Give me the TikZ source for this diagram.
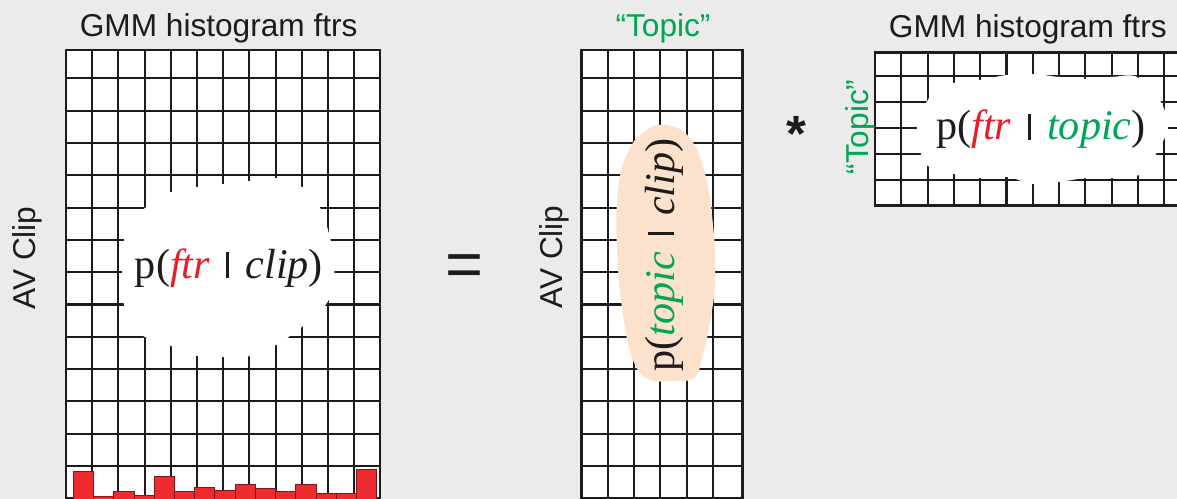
\documentclass[tikz,border=0pt]{standalone}
\usepackage{fontspec}
\setmainfont{Liberation Serif}
\newfontfamily\sansf{Liberation Sans}
\definecolor{bg}{RGB}{235,235,235}
\definecolor{ink}{RGB}{30,27,28}
\definecolor{redtxt}{RGB}{237,28,36}
\definecolor{grn}{RGB}{0,166,81}
\definecolor{peach}{RGB}{252,226,205}
\definecolor{barred}{RGB}{238,43,46}
\definecolor{bardark}{RGB}{130,20,24}
\newcommand\mybar{\hspace{0.14em}\rule{0.07em}{0.62em}\hspace{0.14em}}
\begin{document}
\begin{tikzpicture}[x=0.02cm,y=-0.02cm,
  gridline/.style={draw=ink,line width=1.15pt},
  frame/.style={draw=ink,line width=1.6pt},
  title/.style={font=\sansf\fontsize{18}{20}\selectfont,text=ink,inner sep=0pt},
  formula/.style={font=\fontsize{24}{26}\selectfont,text=ink,inner sep=0pt},
  bar/.style={fill=barred,draw=bardark,line width=0.5pt},
  blob/.style={fill=white}]
\useasboundingbox (0,0) rectangle (1177,499);
\fill[bg] (0,0) rectangle (1177,499);
\clip (0,0) rectangle (1177,499);

% ---------- left grid ----------
\fill[white] (66,50) rectangle (380,520);
\foreach \i in {1,...,11} \draw[gridline] ({66+26.2*\i},50) -- ({66+26.2*\i},520);
\foreach \j in {0,...,13} \draw[gridline] (66,{78.4+32.3*\j}) -- (380,{78.4+32.3*\j});
\fill[blob] plot[smooth cycle, tension=0.6] coordinates {(145,208) (160,196) (171,192) (197,187) (224,184) (250,181) (276,178) (302,187) (318,204) (328,230) (334,260) (333,288) (324,307) (303,326) (290,336) (276,345) (250,356) (224,357) (197,356) (171,346) (145,337) (131,325) (124,305) (122,272) (124,240) (131,221)};
\foreach \t [count=\i from 0] in {471.7,496.7,491,495.3,476,491.3,487.3,490.3,484,488.3,491.3,484.7,493.3,493.3,469}
  \draw[bar] ({73.3+20.23*\i},\t) rectangle ({73.3+20.23*(\i+1)},510);
\draw[frame] (66,50) rectangle (380,520);

% ---------- middle grid ----------
\fill[white] (581.7,50) rectangle (742.3,520);
\foreach \x in {607.7,634,660,687,713.3} \draw[gridline] (\x,50) -- (\x,520);
\foreach \j in {0,...,13} \draw[gridline] (581.7,{78.4+32.3*\j}) -- (742.3,{78.4+32.3*\j});
\fill[peach] plot[smooth cycle, tension=0.7] coordinates {(665,125) (688,136) (704,170) (713,225) (715,280) (710,322) (702,358) (694,378) (670,381) (648,379) (633,360) (623,315) (617,250) (618,190) (628,152) (645,131)};
\draw[frame] (581.7,50) rectangle (742.3,520);

% ---------- right grid ----------
\fill[white] (875,52.7) rectangle (1200,205.7);
\foreach \i in {1,...,12} \draw[gridline] ({875+26.3*\i},52.7) -- ({875+26.3*\i},205.7);
\foreach \j in {0,...,4} \draw[gridline] (875,{76+26*\j}) -- (1200,{76+26*\j});
\fill[blob] plot[smooth cycle, tension=0.6] coordinates {(928,100) (936,84) (954,83) (980,80) (1007,75) (1033,74) (1059,77) (1086,79) (1112,77) (1135,76) (1150,89) (1162,104) (1168,128) (1158,150) (1148,168) (1136,176) (1112,178) (1086,178) (1059,182) (1033,184) (1007,177) (980,178) (954,174) (928,166) (921,154) (917,128) (921,110)};
\draw[frame] (875,52.7) rectangle (1200,205.7);

% ---------- texts ----------
\node[title,anchor=base] (titleL) at (218.7,36.7) {GMM histogram ftrs};
\node[title,anchor=base] (titleR) at (1027.8,37.3) {GMM histogram ftrs};
\node[title,anchor=base,text=grn] (topicTop) at (663,37) {“Topic”};
\node[title,anchor=base,text=grn,rotate=90] (topicSide) at (868,127) {“Topic”};
\node[title,anchor=base,rotate=90] (avL) at (35,258) {AV Clip};
\node[title,anchor=base,rotate=90] (avM) at (562.3,257) {AV Clip};

\node[formula,anchor=base] (fL) at (229,278.3) {p(\textit{\textcolor{redtxt}{ftr}} \mybar{} \textit{clip})};
\node[formula,anchor=base] (fR) at (1041,140) {p(\textit{\textcolor{redtxt}{ftr}} \mybar{} \textit{\textcolor{grn}{topic}})};
\node[formula,anchor=base,rotate=90] (fM) at (674,255) {p(\textit{\textcolor{grn}{topic}} \mybar{} \textit{clip})};

\node[inner sep=0pt,anchor=base,text=ink,font=\sansf\fontsize{37}{40}\selectfont] (eq) at (464.7,286.8) {=};
\node[inner sep=0pt,anchor=base,text=ink,font=\sansf\bfseries\fontsize{29}{32}\selectfont] (star) at (796,152) {*};
\end{tikzpicture}
\end{document}
